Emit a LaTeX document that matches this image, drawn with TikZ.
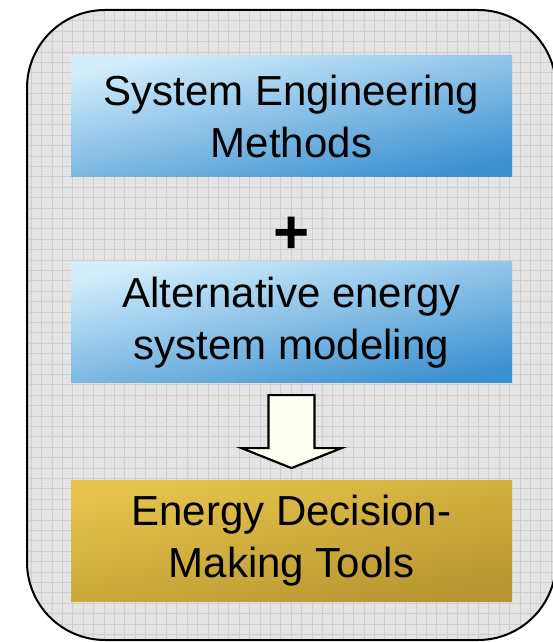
\documentclass[tikz,border=0pt]{standalone}
\usepackage{fontspec}
\setmainfont{Liberation Sans}
\usetikzlibrary{
  positioning,
  calc,
  patterns,
}
\definecolor{panelgray}{RGB}{226,226,226}
\definecolor{gridgray}{RGB}{206,206,206}
\definecolor{bluelight}{RGB}{210,237,252}
\definecolor{bluedark}{RGB}{60,145,208}
\definecolor{goldlight}{RGB}{230,196,76}
\definecolor{golddark}{RGB}{182,150,48}
\definecolor{arrowfill}{RGB}{255,255,244}
\tikzset{
  stagebox/.style={minimum width=441pt, minimum height=121pt, inner sep=0pt,
    align=center, font=\fontsize{42}{52}\selectfont},
  bluebox/.style={stagebox, top color=bluelight, bottom color=bluedark, shading angle=12},
  goldbox/.style={stagebox, top color=goldlight, bottom color=golddark, shading angle=12},
}

\begin{document}
\begin{tikzpicture}[x=1pt, y=1pt]
  \useasboundingbox (0,0) rectangle (553,-642);

  % grey panel with grid
  \begin{scope}
    \clip[rounded corners=78pt] (27,-10) rectangle (556,-640);
    \fill[panelgray] (0,0) rectangle (560,-650);
    \fill[pattern=crosshatch dots, pattern color=white!50!panelgray] (0,0) rectangle (560,-650);
    \draw[gridgray, line width=0.8pt, step=10.4pt] (0,0) grid (560,-650);
  \end{scope}
  \draw[line width=2pt, rounded corners=78pt] (27,-10) rectangle (556,-640);

  \node[bluebox] (sem) at (291.5,-116) {System Engineering\\Methods};
  \node[bluebox, below=85pt of sem] (alt) {Alternative energy\\system modeling};
  \node[goldbox, below=97pt of alt] (tools) {Energy Decision-\\Making Tools};
  \node[font=\fontsize{62}{62}\selectfont\bfseries, inner sep=0pt, yshift=-16pt]
    (plus) at ($(sem.south)!0.5!(alt.north)$) {+};

  % hollow block arrow
  \coordinate (atop) at ([yshift=-12pt]alt.south);
  \coordinate (atip) at ([yshift=12pt]tools.north);
  \draw[line width=2.2pt, fill=arrowfill, line join=miter]
    ($(atop)+(-23,0)$) -- ($(atop)+(23,0)$) -- ($(atip)+(23,20)$)
    -- ($(atip)+(50,20)$) -- (atip) -- ($(atip)+(-50,20)$)
    -- ($(atip)+(-23,20)$) -- cycle;
\end{tikzpicture}
\end{document}
